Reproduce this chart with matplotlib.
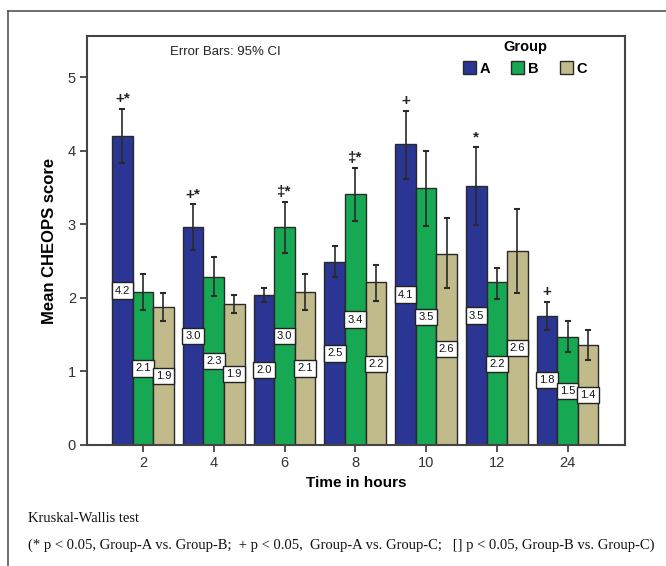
import matplotlib
matplotlib.use("Agg")
import matplotlib.pyplot as plt
from matplotlib.patches import Patch
from matplotlib.lines import Line2D
import numpy as np

times = ["2", "4", "6", "8", "10", "12", "24"]
groups = ["A", "B", "C"]
mean_A = [4.20, 2.97, 2.04, 2.49, 4.09, 3.52, 1.76]
mean_B = [2.08, 2.29, 2.97, 3.41, 3.49, 2.21, 1.47]
mean_C = [1.88, 1.92, 2.08, 2.21, 2.60, 2.64, 1.36]
ci_lo_A = [3.84, 2.65, 1.95, 2.28, 3.62, 2.99, 1.57]
ci_hi_A = [4.57, 3.27, 2.13, 2.70, 4.54, 4.05, 1.94]
ci_lo_B = [1.83, 2.03, 2.61, 3.05, 2.98, 1.99, 1.27]
ci_hi_B = [2.32, 2.55, 3.31, 3.76, 3.99, 2.41, 1.68]
ci_lo_C = [1.69, 1.80, 1.83, 1.96, 2.13, 2.07, 1.15]
ci_hi_C = [2.07, 2.04, 2.32, 2.45, 3.09, 3.21, 1.56]
sig_A = ["+*", "+*", "", "", "+", "*", "+"]
sig_B = ["", "", "\u2021*", "\u2021*", "", "", ""]
sig_C = ["", "", "", "", "", "", ""]

colors = ["#2b3593", "#16a852", "#c1ba8b"]
edge = "#2a2a2a"

W, H = 666, 566
fig = plt.figure(figsize=(W / 100, H / 100), dpi=100)
fig.patch.set_facecolor("white")

# outer frame
fig.add_artist(Line2D([8 / W, 8 / W], [0, 1 - 11 / H], transform=fig.transFigure, color="#555555", lw=1.2))
fig.add_artist(Line2D([8 / W, 1.0], [1 - 11 / H, 1 - 11 / H], transform=fig.transFigure, color="#555555", lw=1.2))

ax = fig.add_axes([87 / W, 1 - 445 / H, (625 - 87) / W, (445 - 36) / H])
ax.set_facecolor("white")

x = np.arange(len(times))
bw = 0.29
means = [mean_A, mean_B, mean_C]
lows = [ci_lo_A, ci_lo_B, ci_lo_C]
highs = [ci_hi_A, ci_hi_B, ci_hi_C]
sigs = [sig_A, sig_B, sig_C]

for gi in range(3):
    xs = x + (gi - 1) * bw
    m = np.array(means[gi])
    lo = np.array(lows[gi])
    hi = np.array(highs[gi])
    ax.bar(xs, m, width=bw, color=colors[gi], edgecolor=edge, linewidth=1.0, zorder=2)
    ax.errorbar(xs, m, yerr=[m - lo, hi - m], fmt="none", ecolor="#2a2a2a",
                elinewidth=1.2, capsize=2.5, capthick=1.5, zorder=3)
    for xi, mv, hv, s in zip(xs, m, hi, sigs[gi]):
        ax.text(xi, mv / 2, f"{mv:.1f}", ha="center", va="center", fontsize=8,
                family="Liberation Sans", color="#111111", zorder=4,
                bbox=dict(boxstyle="square,pad=0.28", fc="white", ec="#222222", lw=1.0))
        if s:
            ax.text(xi, hv + 0.04, s, ha="center", va="bottom", fontsize=11,
                    fontweight="bold", family=["Liberation Sans", "DejaVu Sans"], color="#222222", zorder=4)

ax.set_xlim(-0.79, 6.81)
ax.set_ylim(0, 5.56)
ax.set_yticks([0, 1, 2, 3, 4, 5])
ax.set_xticks(x)
ax.set_xticklabels(times)
for sp in ax.spines.values():
    sp.set_color("#444444")
    sp.set_linewidth(1.5)
ax.tick_params(axis="both", direction="out", length=5, width=1.3, color="#444444",
               labelsize=10.5, labelcolor="#333333", pad=3)
for lab in ax.get_xticklabels() + ax.get_yticklabels():
    lab.set_family("Liberation Sans")

ax.set_xlabel("Time in hours", fontsize=11, fontweight="bold", family="Liberation Sans", labelpad=4)
ax.set_ylabel("Mean CHEOPS score", fontsize=12, fontweight="bold", family="Liberation Sans", labelpad=8)

ax.text((170 - 87) / 538, (445 - 52) / 409, "Error Bars: 95% CI", transform=ax.transAxes,
        ha="left", va="center", fontsize=9.5, family="Liberation Sans", color="#222222")

handles = [Patch(facecolor=c, edgecolor=edge, lw=1.0) for c in colors]
leg = ax.legend(handles, groups, title="Group", ncol=3, frameon=False,
                loc="upper center", bbox_to_anchor=(525 / W, 1 - 30 / H),
                bbox_transform=fig.transFigure, handlelength=0.9, handleheight=0.9,
                handletextpad=0.25, columnspacing=1.45, borderpad=0.2,
                prop={"family": "Liberation Sans", "weight": "bold", "size": 10.5},
                title_fontproperties={"family": "Liberation Sans", "weight": "bold", "size": 10.5})

fig.text(28 / W, 1 - 519 / H, "Kruskal-Wallis test", ha="left", va="center",
         fontsize=10.5, family="Liberation Serif", color="#111111")
fig.text(28 / W, 1 - 545 / H,
         "(* p < 0.05, Group-A vs. Group-B;  + p < 0.05,  Group-A vs. Group-C;   [] p < 0.05, Group-B vs. Group-C)",
         ha="left", va="center", fontsize=10.5, family="Liberation Serif", color="#111111")

fig.savefig("out.png", dpi=100, facecolor="white")
